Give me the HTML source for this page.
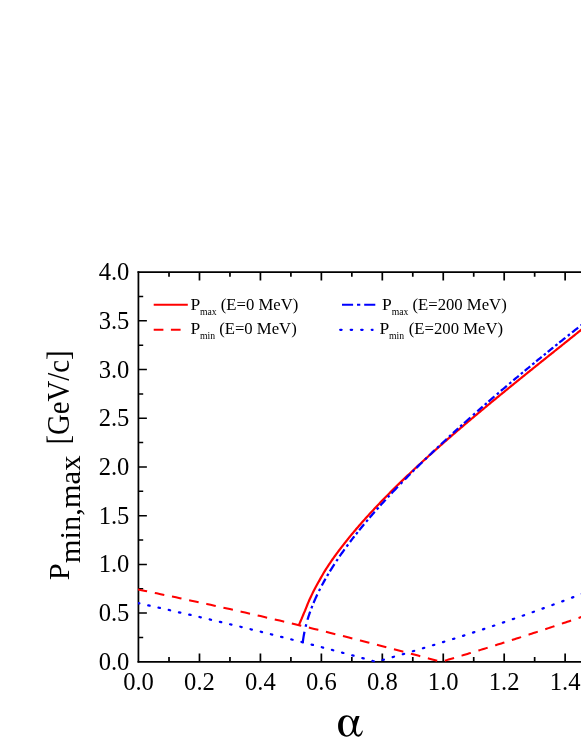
<!DOCTYPE html>
<html><head><meta charset="utf-8"><title>P min,max vs alpha</title>
<style>html,body{margin:0;padding:0;background:#fff;}svg{display:block;will-change:transform;}text{font-family:"Liberation Serif",serif;}</style></head>
<body>
<svg width="581" height="752" viewBox="0 0 581 752">
<rect width="581" height="752" fill="#fff"/>
<g stroke="#000" fill="none" stroke-linecap="butt">
<path d="M137.54,272.1 H586 M137.54,661.8 H586" stroke-width="1.65"/>
<path d="M138.42,271.28 V662.62" stroke-width="1.75"/>
<path d="M169.02,661.8 v-4.72 M169.02,272.1 v4.72 M199.49,661.8 v-8.42 M199.49,272.1 v8.42 M229.96,661.8 v-4.72 M229.96,272.1 v4.72 M260.43,661.8 v-8.42 M260.43,272.1 v8.42 M290.90,661.8 v-4.72 M290.90,272.1 v4.72 M321.37,661.8 v-8.42 M321.37,272.1 v8.42 M351.84,661.8 v-4.72 M351.84,272.1 v4.72 M382.31,661.8 v-8.42 M382.31,272.1 v8.42 M412.78,661.8 v-4.72 M412.78,272.1 v4.72 M443.25,661.8 v-8.42 M443.25,272.1 v8.42 M473.72,661.8 v-4.72 M473.72,272.1 v4.72 M504.19,661.8 v-8.42 M504.19,272.1 v8.42 M534.66,661.8 v-4.72 M534.66,272.1 v4.72 M565.13,661.8 v-8.42 M565.13,272.1 v8.42" stroke-width="1.7"/>
<path d="M138.42,637.44 h4.78 M138.42,613.09 h8.47 M138.42,588.73 h4.78 M138.42,564.38 h8.47 M138.42,540.02 h4.78 M138.42,515.66 h8.47 M138.42,491.31 h4.78 M138.42,466.95 h8.47 M138.42,442.59 h4.78 M138.42,418.24 h8.47 M138.42,393.88 h4.78 M138.42,369.52 h8.47 M138.42,345.17 h4.78 M138.42,320.81 h8.47 M138.42,296.46 h4.78" stroke-width="1.5"/>
</g>
<clipPath id="fr"><rect x="138.0" y="272.1" width="460" height="390.60"/></clipPath>
<g fill="none" stroke-linejoin="round" clip-path="url(#fr)">
<path d="M298.80,625.90 L299.39,623.93 L299.96,622.57 L300.53,621.22 L301.11,619.86 L301.71,618.51 L302.27,617.17 L302.81,615.82 L303.37,614.48 L303.93,613.15 L304.51,611.82 L305.09,610.49 L305.62,609.17 L306.13,607.85 L306.64,606.54 L307.16,605.23 L307.69,603.92 L308.23,602.62 L308.78,601.32 L309.34,600.03 L309.93,598.74 L310.53,597.45 L311.14,596.17 L311.76,594.89 L312.38,593.62 L313.01,592.34 L313.65,591.08 L314.30,589.82 L314.96,588.56 L315.62,587.30 L316.29,586.05 L316.97,584.81 L317.65,583.57 L318.34,582.33 L319.04,581.09 L319.74,579.86 L320.42,578.63 L321.10,577.41 L321.78,576.19 L322.48,574.98 L323.18,573.76 L323.88,572.55 L324.61,571.35 L325.37,570.15 L326.13,568.95 L326.90,567.76 L327.67,566.57 L328.45,565.38 L329.24,564.20 L330.03,563.02 L330.82,561.84 L331.62,560.67 L332.43,559.50 L333.26,558.33 L334.09,557.17 L334.93,556.01 L335.77,554.85 L336.62,553.70 L337.47,552.55 L338.32,551.40 L339.18,550.25 L340.04,549.11 L340.91,547.98 L341.78,546.84 L342.66,545.71 L343.54,544.58 L344.42,543.46 L345.31,542.33 L346.20,541.21 L347.09,540.10 L347.99,538.98 L348.89,537.87 L349.79,536.76 L350.70,535.66 L351.61,534.55 L352.52,533.45 L353.44,532.35 L354.36,531.26 L355.29,530.17 L356.21,529.08 L357.14,527.99 L358.08,526.91 L359.01,525.82 L359.95,524.74 L360.89,523.67 L361.84,522.59 L362.78,521.52 L363.73,520.45 L364.69,519.38 L365.64,518.32 L366.60,517.26 L367.56,516.19 L368.52,515.14 L369.49,514.08 L370.45,513.03 L371.42,511.98 L372.40,510.93 L373.37,509.88 L374.35,508.83 L375.33,507.79 L376.31,506.75 L377.29,505.71 L378.28,504.68 L379.27,503.64 L380.26,502.61 L381.25,501.58 L382.24,500.55 L383.24,499.52 L384.24,498.50 L385.24,497.48 L386.24,496.45 L387.25,495.44 L388.25,494.42 L389.26,493.40 L390.27,492.39 L391.28,491.38 L392.29,490.37 L393.31,489.36 L394.32,488.35 L395.34,487.35 L396.36,486.35 L397.38,485.34 L398.41,484.34 L399.43,483.35 L400.46,482.35 L401.49,481.36 L402.52,480.36 L403.55,479.37 L404.58,478.38 L405.61,477.39 L406.65,476.40 L407.69,475.42 L408.72,474.43 L409.76,473.45 L410.81,472.47 L411.85,471.49 L412.89,470.51 L413.94,469.54 L414.98,468.56 L416.03,467.59 L417.08,466.61 L418.13,465.64 L419.18,464.67 L420.23,463.70 L421.29,462.74 L422.34,461.77 L423.40,460.80 L424.46,459.84 L425.51,458.88 L426.57,457.92 L427.64,456.96 L428.70,456.00 L429.76,455.04 L430.82,454.08 L431.89,453.13 L432.95,452.18 L434.02,451.22 L435.09,450.27 L436.16,449.32 L437.23,448.37 L438.30,447.42 L439.37,446.47 L440.44,445.53 L441.52,444.58 L442.59,443.64 L443.67,442.69 L444.74,441.75 L445.82,440.81 L446.90,439.87 L447.98,438.93 L449.06,437.99 L450.14,437.05 L451.22,436.12 L452.30,435.18 L453.38,434.25 L454.47,433.31 L455.55,432.38 L456.64,431.45 L457.72,430.52 L458.81,429.59 L459.90,428.66 L460.98,427.73 L462.07,426.80 L463.16,425.87 L464.25,424.95 L465.34,424.02 L466.44,423.10 L467.53,422.17 L468.62,421.25 L469.71,420.33 L470.81,419.40 L471.90,418.48 L473.00,417.56 L474.09,416.64 L475.19,415.72 L476.29,414.80 L477.38,413.89 L478.48,412.97 L479.58,412.05 L480.68,411.14 L481.78,410.22 L482.88,409.31 L483.98,408.39 L485.08,407.48 L486.18,406.57 L487.28,405.66 L488.39,404.74 L489.49,403.83 L490.59,402.92 L491.70,402.01 L492.80,401.10 L493.90,400.19 L495.01,399.29 L496.12,398.38 L497.22,397.47 L498.33,396.56 L499.43,395.66 L500.54,394.75 L501.65,393.85 L502.76,392.94 L503.87,392.04 L504.97,391.13 L506.08,390.23 L507.19,389.32 L508.30,388.42 L509.41,387.52 L510.52,386.62 L511.63,385.71 L512.74,384.81 L513.85,383.91 L514.97,383.01 L516.08,382.11 L517.19,381.21 L518.30,380.31 L519.41,379.41 L520.53,378.51 L521.64,377.61 L522.75,376.71 L523.87,375.82 L524.98,374.92 L526.09,374.02 L527.21,373.12 L528.32,372.23 L529.44,371.33 L530.55,370.43 L531.66,369.54 L532.78,368.64 L533.89,367.74 L535.01,366.85 L536.12,365.95 L537.24,365.06 L538.36,364.16 L539.47,363.26 L540.59,362.37 L541.70,361.47 L542.82,360.58 L543.94,359.68 L545.05,358.79 L546.17,357.90 L547.29,357.00 L548.40,356.11 L549.52,355.21 L550.64,354.32 L551.75,353.43 L552.87,352.53 L553.99,351.64 L555.10,350.74 L556.22,349.85 L557.34,348.96 L558.45,348.06 L559.57,347.17 L560.69,346.27 L561.81,345.38 L562.92,344.49 L564.04,343.59 L565.16,342.70 L566.27,341.81 L567.39,340.91 L568.51,340.02 L569.62,339.12 L570.74,338.23 L571.86,337.34 L572.98,336.44 L574.09,335.55 L575.21,334.65 L576.32,333.76 L577.44,332.87 L578.56,331.97 L579.67,331.08 L580.79,330.18 L581.91,329.29 L583.02,328.39 L584.14,327.50 L585.25,326.60 L586.37,325.70 L587.48,324.81 L588.60,323.91 L589.71,323.02 L590.83,322.12 L591.94,321.22" stroke="#ff0000" stroke-width="2.1999999999999997"/>
<path d="M137.60,589.42 L141.44,590.19 L145.28,590.98 L149.12,591.76 L152.96,592.55 L156.80,593.34 L160.65,594.14 L164.49,594.94 L168.33,595.74 L172.17,596.55 L176.01,597.36 L179.85,598.17 L183.69,598.99 L187.53,599.81 L191.37,600.64 L195.21,601.47 L199.05,602.30 L202.90,603.13 L206.74,603.97 L210.58,604.82 L214.42,605.66 L218.26,606.51 L222.10,607.37 L225.94,608.22 L229.78,609.08 L233.62,609.95 L237.46,610.82 L241.30,611.69 L245.14,612.56 L248.99,613.44 L252.83,614.32 L256.67,615.21 L260.51,616.10 L264.35,616.99 L268.19,617.89 L272.03,618.79 L275.87,619.69 L279.71,620.60 L283.55,621.51 L287.39,622.43 L291.24,623.34 L295.08,624.27 L298.92,625.19 L302.76,626.12 L306.60,627.05 L310.44,627.99 L314.28,628.93 L318.12,629.87 L321.96,630.82 L325.80,631.77 L329.64,632.72 L333.49,633.68 L337.33,634.64 L341.17,635.61 L345.01,636.57 L348.85,637.55 L352.69,638.52 L356.53,639.50 L360.37,640.48 L364.21,641.47 L368.05,642.46 L371.89,643.45 L375.74,644.45 L379.58,645.45 L383.42,646.45 L387.26,647.45 L391.10,648.45 L394.94,649.45 L398.78,650.46 L402.62,651.48 L406.46,652.49 L410.30,653.51 L414.14,654.54 L417.98,655.56 L421.83,656.59 L425.67,657.63 L429.51,658.67 L433.35,659.71 L437.19,660.75 L441.03,661.80 L442.92,661.24 L444.80,660.69 L446.69,660.13 L448.57,659.57 L450.46,659.01 L452.34,658.44 L454.23,657.88 L456.12,657.31 L458.00,656.75 L459.89,656.18 L461.77,655.61 L463.66,655.05 L465.54,654.47 L467.43,653.90 L469.32,653.33 L471.20,652.76 L473.09,652.18 L474.97,651.61 L476.86,651.03 L478.74,650.45 L480.63,649.87 L482.52,649.29 L484.40,648.71 L486.29,648.13 L488.17,647.54 L490.06,646.96 L491.94,646.37 L493.83,645.78 L495.72,645.19 L497.60,644.60 L499.49,644.01 L501.37,643.42 L503.26,642.82 L505.14,642.22 L507.03,641.62 L508.92,641.02 L510.80,640.42 L512.69,639.81 L514.57,639.21 L516.46,638.60 L518.34,638.00 L520.23,637.39 L522.12,636.78 L524.00,636.17 L525.89,635.56 L527.77,634.94 L529.66,634.33 L531.54,633.71 L533.43,633.10 L535.31,632.48 L537.20,631.86 L539.09,631.24 L540.97,630.62 L542.86,630.00 L544.74,629.37 L546.63,628.75 L548.51,628.12 L550.40,627.50 L552.29,626.87 L554.17,626.24 L556.06,625.61 L557.94,624.98 L559.83,624.35 L561.71,623.71 L563.60,623.08 L565.49,622.44 L567.37,621.80 L569.26,621.17 L571.14,620.53 L573.03,619.89 L574.91,619.25 L576.80,618.60 L578.69,617.96 L580.57,617.31 L582.46,616.67 L584.34,616.02 L586.23,615.37 L588.11,614.72 L590.00,614.07" stroke="#ff0000" stroke-width="2.05" stroke-dasharray="9.7 7.85" stroke-dashoffset="0"/>
<path d="M138.00,603.08 L141.01,603.74 L144.02,604.41 L147.04,605.08 L150.05,605.75 L153.06,606.42 L156.07,607.09 L159.08,607.77 L162.10,608.45 L165.11,609.13 L168.12,609.81 L171.13,610.49 L174.14,611.18 L177.16,611.87 L180.17,612.55 L183.18,613.25 L186.19,613.94 L189.20,614.64 L192.22,615.33 L195.23,616.03 L198.24,616.74 L201.25,617.44 L204.26,618.14 L207.28,618.85 L210.29,619.56 L213.30,620.27 L216.31,620.99 L219.32,621.70 L222.34,622.42 L225.35,623.14 L228.36,623.86 L231.37,624.58 L234.38,625.31 L237.40,626.04 L240.41,626.77 L243.42,627.50 L246.43,628.23 L249.44,628.97 L252.46,629.70 L255.47,630.44 L258.48,631.18 L261.49,631.93 L264.50,632.67 L267.52,633.42 L270.53,634.17 L273.54,634.92 L276.55,635.67 L279.56,636.43 L282.58,637.19 L285.59,637.94 L288.60,638.71 L291.61,639.47 L294.62,640.23 L297.64,641.00 L300.65,641.77 L303.66,642.54 L306.67,643.31 L309.68,644.09 L312.70,644.87 L315.71,645.64 L318.72,646.43 L321.73,647.22 L324.74,648.02 L327.76,648.81 L330.77,649.61 L333.78,650.41 L336.79,651.21 L339.80,652.01 L342.82,652.82 L345.83,653.62 L348.84,654.43 L351.85,655.24 L354.86,656.06 L357.88,656.87 L360.89,657.69 L363.90,658.51 L366.91,659.33 L369.92,660.15 L372.94,660.97 L375.95,661.80 L378.66,661.05 L381.37,660.30 L384.08,659.54 L386.79,658.78 L389.50,658.02 L392.21,657.25 L394.92,656.48 L397.63,655.70 L400.33,654.92 L403.04,654.14 L405.75,653.35 L408.46,652.56 L411.17,651.76 L413.88,650.96 L416.59,650.16 L419.30,649.35 L422.01,648.54 L424.72,647.72 L427.43,646.90 L430.14,646.08 L432.85,645.25 L435.56,644.42 L438.27,643.59 L440.98,642.75 L443.69,641.92 L446.40,641.07 L449.11,640.23 L451.82,639.38 L454.52,638.53 L457.23,637.67 L459.94,636.81 L462.65,635.94 L465.36,635.07 L468.07,634.20 L470.78,633.32 L473.49,632.44 L476.20,631.55 L478.91,630.66 L481.62,629.77 L484.33,628.87 L487.04,627.97 L489.75,627.07 L492.46,626.16 L495.17,625.24 L497.88,624.32 L500.59,623.40 L503.30,622.48 L506.01,621.55 L508.71,620.61 L511.42,619.67 L514.13,618.73 L516.84,617.79 L519.55,616.84 L522.26,615.88 L524.97,614.92 L527.68,613.96 L530.39,613.00 L533.10,612.03 L535.81,611.05 L538.52,610.07 L541.23,609.09 L543.94,608.10 L546.65,607.11 L549.36,606.12 L552.07,605.12 L554.78,604.12 L557.49,603.11 L560.20,602.10 L562.90,601.09 L565.61,600.07 L568.32,599.05 L571.03,598.02 L573.74,596.99 L576.45,595.95 L579.16,594.92 L581.87,593.87 L584.58,592.83 L587.29,591.77 L590.00,590.72" stroke="#0000ff" stroke-width="2.25" stroke-linecap="round" stroke-dasharray="1.4 9.1" stroke-dashoffset="0"/>
<path d="M302.70,643.00 L302.87,641.53 L303.07,640.05 L303.28,638.58 L303.51,637.11 L303.75,635.65 L304.01,634.19 L304.29,632.73 L304.49,631.74 M305.62,626.75 L305.93,625.49 L306.26,624.23 M307.51,619.76 L307.94,618.34 L308.39,616.92 L308.85,615.51 L309.32,614.10 L309.80,612.70 L310.18,611.64 M311.39,608.34 L311.86,607.13 L312.34,605.92 M313.53,602.99 L314.10,601.63 L314.69,600.26 L315.29,598.90 L315.90,597.55 L316.51,596.20 L317.14,594.85 L317.30,594.53 M319.00,591.01 L319.08,590.84 L319.75,589.51 L320.17,588.68 M321.79,585.55 L322.49,584.24 L323.19,582.94 L323.91,581.63 L324.63,580.33 L325.36,579.04 L325.56,578.68 M327.12,575.98 L327.59,575.18 L328.34,573.90 L328.44,573.75 M329.88,571.36 L330.65,570.10 L331.44,568.83 L332.22,567.58 L333.02,566.32 L333.82,565.07 L334.43,564.12 M336.36,561.19 L337.08,560.10 L337.81,559.03 M339.58,556.42 L340.43,555.20 L341.28,553.98 L342.13,552.76 L342.99,551.55 L343.85,550.34 L344.51,549.43 M346.58,546.59 L347.35,545.54 L348.13,544.50 M350.02,541.97 L350.92,540.79 L351.82,539.61 L352.73,538.43 L353.64,537.26 L354.37,536.32 M356.04,534.19 L356.39,533.75 L357.31,532.59 L357.66,532.16 M359.17,530.27 L360.10,529.12 L361.04,527.97 L361.98,526.82 L362.92,525.67 L363.87,524.53 L364.13,524.21 M366.13,521.82 L366.73,521.11 L367.69,519.97 L367.81,519.83 M369.61,517.71 L370.58,516.59 L371.55,515.46 L372.52,514.34 L373.50,513.22 L374.47,512.10 L374.75,511.79 M376.81,509.46 L377.42,508.76 L378.41,507.65 L378.53,507.51 M380.39,505.44 L381.39,504.34 L382.38,503.24 L383.38,502.14 L384.38,501.04 L385.39,499.95 L385.67,499.64 M387.78,497.35 L388.41,496.67 L389.42,495.59 L389.55,495.45 M391.45,493.42 L392.47,492.34 L393.49,491.26 L394.51,490.18 L395.54,489.10 L396.56,488.03 L397.59,486.96 L397.84,486.70 M400.55,483.88 L400.68,483.75 L401.72,482.68 L402.36,482.02 M404.83,479.50 L405.87,478.44 L406.91,477.38 L407.96,476.32 L409.00,475.27 L410.05,474.22 L410.34,473.92 M412.54,471.72 L413.20,471.07 L414.25,470.02 L414.39,469.89 M416.36,467.93 L417.42,466.89 L418.48,465.84 L419.54,464.80 L420.60,463.77 L421.67,462.73 L422.47,461.94 M425.00,459.50 L425.93,458.59 L426.87,457.69 M429.14,455.50 L430.21,454.48 L431.29,453.45 L432.36,452.43 L433.44,451.40 L434.52,450.38 L434.82,450.10 M437.08,447.96 L437.76,447.32 L438.84,446.31 L438.98,446.18 M441.01,444.28 L442.09,443.26 L443.18,442.25 L444.27,441.24 L445.36,440.23 L446.44,439.22 L446.75,438.94 M449.04,436.83 L449.72,436.20 L450.81,435.19 L450.95,435.07 M453.00,433.18 L454.10,432.18 L455.20,431.18 L456.29,430.18 L457.39,429.18 L458.27,428.38 M460.28,426.57 L460.69,426.19 L461.80,425.20 L462.21,424.82 M464.00,423.21 L465.11,422.22 L466.22,421.23 L467.32,420.24 L468.43,419.25 L469.54,418.26 L470.38,417.51 M473.01,415.18 L473.98,414.31 L474.95,413.45 M477.32,411.36 L478.44,410.38 L479.55,409.40 L480.67,408.42 L481.78,407.44 L482.68,406.66 M484.72,404.88 L485.14,404.51 L486.26,403.54 L486.68,403.17 M488.50,401.59 L489.62,400.62 L490.75,399.64 L491.87,398.67 L492.99,397.70 L494.12,396.73 L494.43,396.46 M496.79,394.43 L497.50,393.83 L498.62,392.86 L498.77,392.74 M500.88,390.93 L502.01,389.97 L503.14,389.00 L504.27,388.04 L505.40,387.08 L506.54,386.12 L506.85,385.85 M509.23,383.84 L509.94,383.24 L511.07,382.28 L511.21,382.16 M513.34,380.37 L514.48,379.41 L515.61,378.45 L516.75,377.50 L517.89,376.54 L518.80,375.78 M520.88,374.04 L521.31,373.69 L522.45,372.74 L522.88,372.38 M524.73,370.84 L525.88,369.89 L527.02,368.94 L528.16,367.99 L529.31,367.04 L530.22,366.29 M532.31,364.56 L532.74,364.21 L533.89,363.26 L534.32,362.91 M536.18,361.38 L537.33,360.44 L538.48,359.49 L539.63,358.55 L540.78,357.61 L541.70,356.86 M543.80,355.15 L544.23,354.80 L545.38,353.86 L545.82,353.51 M547.69,351.99 L548.84,351.05 L550.00,350.12 L551.15,349.18 L552.31,348.25 L553.23,347.50 M555.34,345.80 L555.78,345.45 L556.93,344.52 L557.37,344.17 M559.25,342.66 L560.41,341.74 L561.57,340.81 L562.73,339.88 L563.89,338.95 L565.05,338.03 L565.37,337.77 M567.81,335.83 L568.54,335.25 L569.70,334.33 L569.85,334.22 M572.03,332.49 L573.19,331.57 L574.36,330.65 L575.52,329.73 L576.69,328.81 L577.86,327.89 L578.18,327.63 M580.63,325.71 L581.36,325.14 L582.53,324.22 L582.68,324.11 M584.87,322.39 L586.04,321.48 L587.21,320.56 L588.39,319.65 L589.56,318.74 L590.73,317.83 L591.06,317.57" stroke="#0000ff" stroke-width="2.25"/>
</g>
<g font-family="'Liberation Serif', serif" fill="#000">
<text transform="translate(138.55,690.20) scale(1.0,1.03)" font-size="24.6" text-anchor="middle">0.0</text>
<text transform="translate(199.49,690.20) scale(1.0,1.03)" font-size="24.6" text-anchor="middle">0.2</text>
<text transform="translate(260.43,690.20) scale(1.0,1.03)" font-size="24.6" text-anchor="middle">0.4</text>
<text transform="translate(321.37,690.20) scale(1.0,1.03)" font-size="24.6" text-anchor="middle">0.6</text>
<text transform="translate(382.31,690.20) scale(1.0,1.03)" font-size="24.6" text-anchor="middle">0.8</text>
<text transform="translate(443.25,690.20) scale(1.0,1.03)" font-size="24.6" text-anchor="middle">1.0</text>
<text transform="translate(504.19,690.20) scale(1.0,1.03)" font-size="24.6" text-anchor="middle">1.2</text>
<text transform="translate(565.13,690.20) scale(1.0,1.03)" font-size="24.6" text-anchor="middle">1.4</text>
<text transform="translate(129.40,669.90) scale(1.0,1.03)" font-size="24.6" text-anchor="end">0.0</text>
<text transform="translate(129.40,621.19) scale(1.0,1.03)" font-size="24.6" text-anchor="end">0.5</text>
<text transform="translate(129.40,572.48) scale(1.0,1.03)" font-size="24.6" text-anchor="end">1.0</text>
<text transform="translate(129.40,523.76) scale(1.0,1.03)" font-size="24.6" text-anchor="end">1.5</text>
<text transform="translate(129.40,475.05) scale(1.0,1.03)" font-size="24.6" text-anchor="end">2.0</text>
<text transform="translate(129.40,426.34) scale(1.0,1.03)" font-size="24.6" text-anchor="end">2.5</text>
<text transform="translate(129.40,377.62) scale(1.0,1.03)" font-size="24.6" text-anchor="end">3.0</text>
<text transform="translate(129.40,328.91) scale(1.0,1.03)" font-size="24.6" text-anchor="end">3.5</text>
<text transform="translate(129.40,280.20) scale(1.0,1.03)" font-size="24.6" text-anchor="end">4.0</text>
<path transform="translate(332,708) scale(0.06196)" d="M385,128 L445,128 C425,185 405,240 392,300 C385,340 385,385 398,415 C408,435 428,438 445,425 C465,408 478,385 486,362 L498,368 C490,410 470,462 425,462 C385,462 360,430 348,385 C325,435 285,463 240,463 C150,463 98,385 98,290 C98,195 150,118 240,118 C295,118 330,155 350,215 C362,180 375,150 385,128 Z M245,140 C200,140 175,200 175,290 C175,380 200,441 245,441 C295,441 335,370 338,300 C335,215 300,140 245,140 Z" fill="#000" fill-rule="evenodd"/>
<text transform="translate(68.60,580.20) rotate(-90) scale(1.045,1.025)" font-size="29.2" text-anchor="start">P<tspan dy="10.7">min,max</tspan></text>
<text transform="translate(68.70,350.30) rotate(-90) scale(0.985,1.05)" font-size="29.2" text-anchor="end">[GeV/c]</text>
<text transform="translate(190.40,309.60)" font-size="16.7" text-anchor="start"><tspan font-size="17.5">P</tspan><tspan font-size="9.7" dy="5.0" dx="-0.2">max</tspan><tspan dy="-5.0" dx="0.0" font-size="16.7"> (E=0 MeV)</tspan></text>
<text transform="translate(190.40,334.00)" font-size="16.7" text-anchor="start"><tspan font-size="17.5">P</tspan><tspan font-size="9.7" dy="5.0" dx="-0.2">min</tspan><tspan dy="-5.0" dx="0.0" font-size="16.7"> (E=0 MeV)</tspan></text>
<text transform="translate(382.10,309.60)" font-size="16.7" text-anchor="start"><tspan font-size="17.5">P</tspan><tspan font-size="9.7" dy="5.0" dx="-0.2">max</tspan><tspan dy="-5.0" dx="0.0" font-size="16.7"> (E=200 MeV)</tspan></text>
<text transform="translate(379.50,334.00)" font-size="16.7" text-anchor="start"><tspan font-size="17.5">P</tspan><tspan font-size="9.7" dy="5.0" dx="-0.2">min</tspan><tspan dy="-5.0" dx="0.5" font-size="16.7"> (E=200 MeV)</tspan></text>
</g>
<g fill="none">
<path d="M153.7,304.75 H187.8" stroke="#ff0000" stroke-width="2.05"/>
<path d="M153.7,329.75 H187.8" stroke="#ff0000" stroke-width="2.05" stroke-dasharray="9.7 7.5"/>
<path d="M342.0,304.75 H375.3" stroke="#0000ff" stroke-width="2.15" stroke-dasharray="11.1 3.9 3.3 3.9"/>
<clipPath id="lg"><rect x="330" y="320" width="43.5" height="20"/></clipPath>
<path d="M340.2,329.75 H376" stroke="#0000ff" stroke-width="2.25" stroke-linecap="round" stroke-dasharray="1.4 9.1" clip-path="url(#lg)"/>
</g>
</svg>
</body></html>
